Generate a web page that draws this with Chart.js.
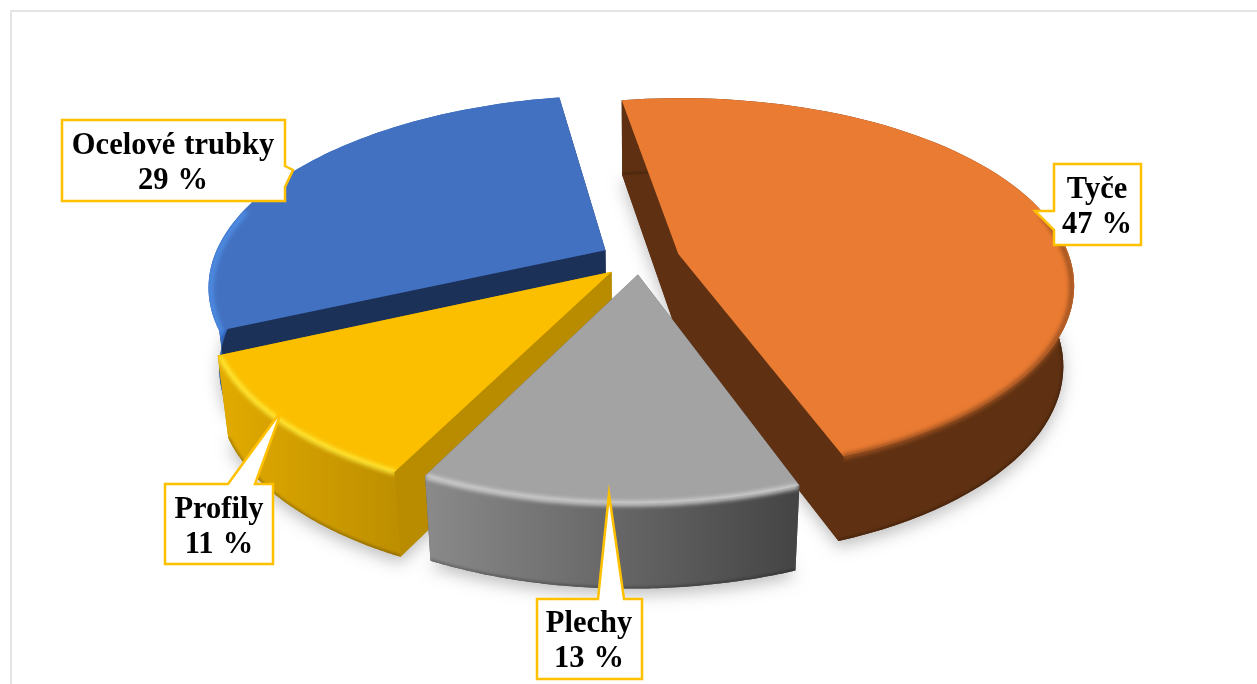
<!DOCTYPE html>
<html>
<head>
<meta charset="utf-8">
<style>
  html, body { margin: 0; padding: 0; background: #fff; overflow: hidden; }
  #frame { position: absolute; left: 10px; top: 10px; width: 1247px; height: 674px; border-left: 2px solid #e4e4e4; border-top: 2px solid #e4e4e4; box-sizing: border-box; }
  canvas { position: absolute; left: 0; top: 0; }
</style>
<script src="https://cdn.jsdelivr.net/npm/chart.js@4"></script>
</head>
<body>
<div id="frame"></div>
<canvas id="pie" width="1257" height="684"></canvas>
<script>
// clockwise from the top
var categories = ["Tyče", "Plechy", "Profily", "Ocelové trubky"];
var values = [47, 13, 11, 29];
var topColors = ["#EA7B32", "#A3A3A3", "#FBBF00", "#4371C1"];
var cutColors = ["#5F3112", "#5a5a5a", "#B98C00", "#1B3158"];
var wallLeft = ["#5F3112", "#8a8a8a", "#E2AB00", "#3A78D8"];
var wallRight = ["#5F3112", "#444444", "#BE8F00", "#2F62B0"];
var rimColors = ["#9A5020", "#D2D2D2", "#FFE838", "#4F8FE6"];
var explode = [33, 27, 32, 33];

// painter order, back to front
var drawOrder = [3, 2, 0, 1];

// how the flat pie is laid over the page
var view = { cx: 640, cy: 259, rx: 392, ry: 184, persp: 0.17, shear: -7, depth: 80, depthPersp: 0.0625, shrink: 0.025 };

var callouts = [
  { i: 0, box: [1054, 164, 1141, 245], tail: [[1054, 211], [1035, 211], [1054, 230]], side: "left", textX: 1097, base: 198 },
  { i: 1, box: [537, 599, 642, 679], tail: [[598, 599], [609, 494], [624, 599]], side: "top", textX: 589, base: 632 },
  { i: 2, box: [165, 484, 273, 564], tail: [[228, 484], [282, 410], [255, 484]], side: "top", textX: 219, base: 518 },
  { i: 3, box: [62, 120, 285, 201], tail: [[285, 166], [293, 170], [285, 187]], side: "right", textX: 173, base: 154 }
];

function project(el, angle, r, z) {
  var off = el.options.offset / el.outerRadius;
  var mid = (el.startAngle + el.endAngle) / 2;
  var X = r * Math.cos(angle) + off * Math.cos(mid);
  var Y = r * Math.sin(angle) + off * Math.sin(mid);
  var s = 1 / (1 - view.persp * Y);
  var x = view.cx + view.rx * X * s + view.shear * Y;
  var y = view.cy + view.ry * Y * s;
  return {
    x: view.cx + (x - view.cx) * (1 - view.shrink * z),
    y: y + view.depth * (1 + view.depthPersp * Y) * z
  };
}

function arcPoints(el, z, r, frontOnly) {
  var pts = [];
  for (var k = 0; k <= 80; k++) {
    var a = el.startAngle + (el.endAngle - el.startAngle) * k / 80;
    if (frontOnly && Math.sin(a) < -0.25) continue;
    pts.push(project(el, a, r, z));
  }
  return pts;
}

function trace(ctx, pts) {
  pts.forEach(function (p, k) {
    if (k) ctx.lineTo(p.x, p.y); else ctx.moveTo(p.x, p.y);
  });
}

function fillShape(ctx, pts) {
  ctx.beginPath();
  trace(ctx, pts);
  ctx.closePath();
  ctx.fill();
}

function strokeLine(ctx, pts) {
  ctx.beginPath();
  trace(ctx, pts);
  ctx.stroke();
}

function drawSlice(ctx, el, i) {
  var topArc = arcPoints(el, 0, 1);
  var lowArc = arcPoints(el, 1, 1);
  var tipTop = project(el, 0, 0, 0);
  var tipLow = project(el, 0, 0, 1);
  var topFace = [tipTop].concat(topArc);
  var wall = topArc.concat(lowArc.slice().reverse());

  // sweep of the slice: shadow and cut faces
  ctx.save();
  ctx.shadowColor = "rgba(0,0,0,0.25)";
  ctx.shadowBlur = 16;
  ctx.shadowOffsetY = 6;
  ctx.fillStyle = cutColors[i];
  fillShape(ctx, [tipLow].concat(lowArc));
  ctx.restore();
  ctx.fillStyle = cutColors[i];
  [el.startAngle, el.endAngle].forEach(function (a) {
    fillShape(ctx, [tipTop, project(el, a, 1, 0), project(el, a, 1, 1), tipLow]);
  });

  // outer wall
  var xs = topArc.map(function (p) { return p.x; });
  var grad = ctx.createLinearGradient(Math.min.apply(null, xs), 0, Math.max.apply(null, xs), 0);
  grad.addColorStop(0, wallLeft[i]);
  grad.addColorStop(1, wallRight[i]);
  ctx.fillStyle = grad;
  fillShape(ctx, wall);

  // dark lower edge of the wall
  ctx.save();
  ctx.beginPath();
  trace(ctx, wall);
  ctx.closePath();
  ctx.clip();
  ctx.filter = "blur(1.5px)";
  ctx.strokeStyle = "rgba(0,0,0,0.3)";
  ctx.lineWidth = 3;
  strokeLine(ctx, lowArc);
  ctx.restore();

  // top face
  ctx.fillStyle = el.options.backgroundColor;
  fillShape(ctx, topFace);

  // soft rim round the front of the outer edge
  ctx.save();
  ctx.beginPath();
  trace(ctx, topFace);
  ctx.closePath();
  trace(ctx, wall);
  ctx.closePath();
  ctx.clip();
  ctx.filter = "blur(2px)";
  ctx.strokeStyle = rimColors[i];
  ctx.lineWidth = 5;
  strokeLine(ctx, arcPoints(el, 0.02, 0.995, true));
  ctx.restore();
}

function drawCallout(ctx, c) {
  var b = c.box;
  var pts = [];
  // walk round the box and splice the pointer into its side
  if (c.side === "top") pts = [[b[0], b[1]]].concat(c.tail, [[b[2], b[1]], [b[2], b[3]], [b[0], b[3]]]);
  if (c.side === "right") pts = [[b[0], b[1]], [b[2], b[1]]].concat(c.tail, [[b[2], b[3]], [b[0], b[3]]]);
  if (c.side === "left") pts = [[b[0], b[1]], [b[2], b[1]], [b[2], b[3]], [b[0], b[3]]].concat(c.tail.slice().reverse());
  ctx.beginPath();
  pts.forEach(function (p, k) {
    if (k) ctx.lineTo(p[0], p[1]); else ctx.moveTo(p[0], p[1]);
  });
  ctx.closePath();
  ctx.fillStyle = "#fff";
  ctx.fill();
  ctx.strokeStyle = "#FFC000";
  ctx.lineWidth = 2.5;
  ctx.lineJoin = "miter";
  ctx.stroke();

  ctx.fillStyle = "#000";
  ctx.font = "bold 30.5px 'Liberation Serif'";
  ctx.textAlign = "center";
  ctx.textBaseline = "alphabetic";
  ctx.wordSpacing = "1.5px";
  ctx.fillText(categories[c.i], c.textX, c.base);
  ctx.fillText(values[c.i] + " %", c.textX, c.base + 35);
}

var pie3d = {
  id: "pie3d",
  beforeDatasetsDraw: function (chart) {
    var ctx = chart.ctx;
    var arcs = chart.getDatasetMeta(0).data;
    drawOrder.forEach(function (i) {
      drawSlice(ctx, arcs[i], i);
    });
    return false;
  },
  afterDraw: function (chart) {
    callouts.forEach(function (c) {
      drawCallout(chart.ctx, c);
    });
  }
};

new Chart(document.getElementById("pie"), {
  type: "pie",
  data: {
    labels: categories,
    datasets: [{
      data: values,
      backgroundColor: topColors,
      offset: explode,
      borderWidth: 0
    }]
  },
  options: {
    responsive: false,
    animation: false,
    rotation: -10,
    plugins: { legend: { display: false }, tooltip: { enabled: false } }
  },
  plugins: [pie3d]
});
</script>
</body>
</html>
